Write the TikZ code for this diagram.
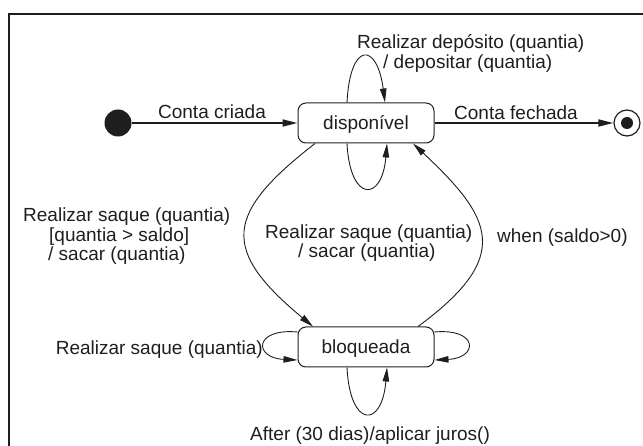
\documentclass[tikz,border=0pt]{standalone}
\usepackage{fontspec}
\setmainfont{Liberation Sans}
\usetikzlibrary{arrows.meta}
\definecolor{ink}{HTML}{1E1E1E}
\begin{document}
\begin{tikzpicture}[x=1pt,y=-1pt,
  lbl/.style={font=\fontsize{19}{20}\selectfont, text=ink, inner sep=0pt},
  statebox/.style={draw=ink, line width=1pt, rounded corners=8pt, minimum width=136pt, minimum height=40pt, inner sep=0pt, font=\fontsize{19}{20}\selectfont, text=ink, text height=17pt, text depth=4pt},
  thin edge/.style={draw=ink, line width=0.9pt, -{Triangle[length=14pt,width=6.5pt]}},
  main edge/.style={draw=ink, line width=1.8pt, -{Triangle[length=15pt,width=7pt]}},
]
\useasboundingbox (0,0) rectangle (643,446);
\draw[draw=ink, line width=1.3pt] (9,14) rectangle (700,500);

\node[circle, fill=ink, minimum size=27pt, inner sep=0pt] (init) at (118,123) {};
\node[statebox] (d) at (366,123) {disponível};
\node[statebox] (b) at (366,347) {bloqueada};
\node[circle, draw=ink, line width=1.2pt, minimum size=26pt, inner sep=0pt] (fin) at (627,123) {};
\node[circle, fill=ink, minimum size=12pt, inner sep=0pt] (findot) at (fin) {};

\draw[main edge] (init) -- (d);
\draw[main edge] (d) -- (fin);

\draw[thin edge] ([xshift=-19pt]d.north) .. controls +(3,-61) and +(-8,-61) .. ([xshift=19pt]d.north);
\draw[thin edge] ([xshift=-19pt]d.south) .. controls +(3,59) and +(-5,59) .. ([xshift=21pt]d.south);
\draw[thin edge] ([xshift=-19pt]b.south) .. controls +(3,61) and +(-5,61) .. ([xshift=21pt]b.south);
\draw[thin edge] ([yshift=15pt]b.west) .. controls +(-44,-4) and +(-44,-2) .. ([yshift=-13pt]b.west);
\draw[thin edge] ([yshift=15pt]b.east) .. controls +(44,-4) and +(44,-2) .. ([yshift=-13pt]b.east);
\draw[thin edge] ([xshift=-51pt]d.south) .. controls +(-90,70) and +(-93,-77) .. ([xshift=-53pt]b.north);
\draw[thin edge] ([xshift=52pt]b.north) .. controls +(95,-70) and +(80,75) .. ([xshift=47pt]d.south);

\node[lbl, anchor=base] (lcriada) at (212,119) {Conta criada};
\node[lbl, anchor=base] (lfechada) at (516,119.5) {Conta fechada};
\node[lbl, anchor=base west] (ldep1) at (357,49) {Realizar depósito (quantia)};
\node[lbl, anchor=base west] (ldep2) at (383,69) {/ depositar (quantia)};
\node[lbl, anchor=base west] (lsq1) at (23,222) {Realizar saque (quantia)};
\node[lbl, anchor=base west] (lsq2) at (49,242) {[quantia > saldo]};
\node[lbl, anchor=base west] (lsq3) at (48,261) {/ sacar (quantia)};
\node[lbl, anchor=base west] (lmid1) at (265,239) {Realizar saque (quantia)};
\node[lbl, anchor=base west] (lmid2) at (298,258) {/ sacar (quantia)};
\node[lbl, anchor=base west] (lwhen) at (497,243) {when (saldo>0)};
\node[lbl, anchor=base east] (lbloq) at (263,355) {Realizar saque (quantia)};
\node[lbl, anchor=base west] (lafter) at (250,440) {After (30 dias)/aplicar juros()};
\end{tikzpicture}
\end{document}
